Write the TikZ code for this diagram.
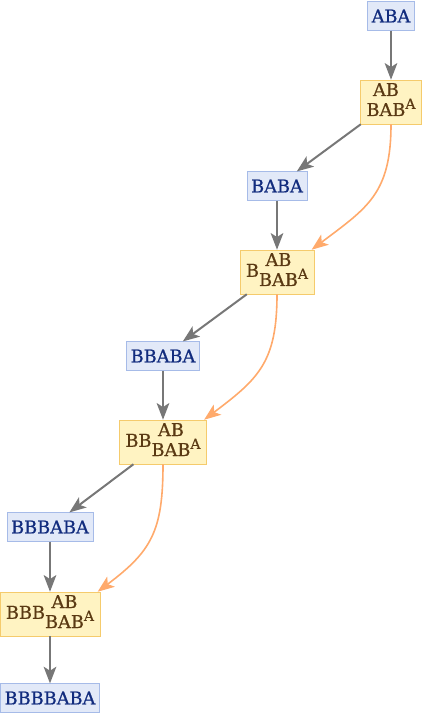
\documentclass[tikz,border=0pt]{standalone}
\usepackage{fontspec}
\setmainfont[FakeBold=0.7]{DejaVu Serif}
\usepackage{tikz}
\usetikzlibrary{arrows.meta, positioning}

\definecolor{wordfill}{HTML}{E2E9F8}
\definecolor{wordline}{HTML}{A6BBE8}
\definecolor{wordtext}{HTML}{122C7E}
\definecolor{rulefill}{HTML}{FFF3C2}
\definecolor{ruleline}{HTML}{F5CB6C}
\definecolor{ruletext}{HTML}{5A3913}
\definecolor{arrgray}{HTML}{777777}
\definecolor{suborange}{HTML}{FFAA6C}

% stacked rewrite: prefix, then AB over BAB, with A raised after it
\newcommand{\rwstack}[1]{#1\begin{tabular}[c]{@{}c@{}}AB\\BAB\end{tabular}\raisebox{-1.5pt}{\fontsize{10.5}{10.5}\selectfont A}}

\begin{document}
\begin{tikzpicture}[
    x=0.75pt, y=-0.75pt,
    font=\fontsize{13.3}{15}\selectfont,
    word/.style={rectangle, draw=wordline, fill=wordfill, text=wordtext, minimum height=21.5pt, inner xsep=3pt, inner ysep=0pt},
    rwbox/.style={rectangle, draw=ruleline, fill=rulefill, text=ruletext, minimum height=33pt, inner xsep=4.5pt, inner ysep=0pt},
    arr/.style={-{Stealth[length=12.5pt, width=9.5pt, inset=3pt]}, draw=arrgray, line width=1.5pt},
    subarr/.style={-{Stealth[length=12.5pt, width=9.5pt, inset=3pt]}, draw=suborange, line width=1.2pt}
]
\useasboundingbox (0,0) rectangle (424,716);

\node[word] (w0) at (391,16) {ABA};
\node[rwbox] (r1) at (391,102) {\rwstack{}};
\node[word] (w1) at (277,186) {BABA};
\node[rwbox] (r2) at (277,272) {\rwstack{B}};
\node[word] (w2) at (163,356) {BBABA};
\node[rwbox] (r3) at (163,442) {\rwstack{BB}};
\node[word] (w3) at (50,527) {BBBABA};
\node[rwbox] (r4) at (50,614) {\rwstack{BBB}};
\node[word] (w4) at (50,698) {BBBBABA};

\draw[arr] (w0) -- (r1);
\draw[arr] (r1) -- (w1);
\draw[arr] (w1) -- (r2);
\draw[arr] (r2) -- (w2);
\draw[arr] (w2) -- (r3);
\draw[arr] (r3) -- (w3);
\draw[arr] (w3) -- (r4);
\draw[arr] (r4) -- (w4);

\draw[subarr] (r1.south) to[out=-90, in=37, looseness=1.2] ([xshift=-2pt]r2.north east);
\draw[subarr] (r2.south) to[out=-90, in=37, looseness=1.2] ([xshift=-2pt]r3.north east);
\draw[subarr] (r3.south) to[out=-90, in=37, looseness=1.2] ([xshift=-2pt]r4.north east);

\end{tikzpicture}
\end{document}
